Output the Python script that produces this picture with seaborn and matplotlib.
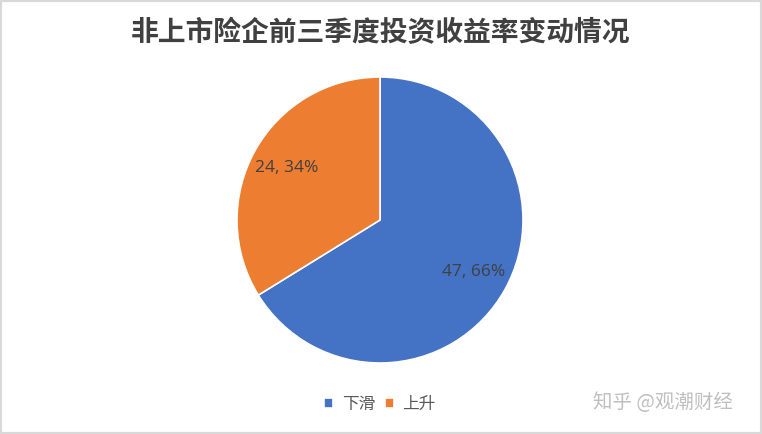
import seaborn as sns
import matplotlib.pyplot as plt
from matplotlib.patches import Rectangle

# data
categories = ['下滑', '上升']
counts = [47, 24]
colors = ['#4472C4', '#ED7D31']
titre = '非上市险企前三季度投资收益率变动情况'

sns.set_theme(style='white')
plt.rcParams['font.family'] = ['Noto Sans CJK SC', 'DejaVu Sans']

W, H = 762, 434
fig = plt.figure(figsize=(W / 100, H / 100), dpi=100)
fig.patch.set_facecolor('white')

# pie axes: centre (380, 220), radius 143 px
cx, cy, r = 380, 220, 143
ax = fig.add_axes([(cx - r) / W, (H - cy - r) / H, 2 * r / W, 2 * r / H])

total = sum(counts)


def fmt(pct):
    n = int(round(pct * total / 100))
    return f'{n}, {pct:.0f}%'


wedges, texts, autotexts = ax.pie(
    counts, colors=colors, startangle=90, counterclock=False,
    autopct=fmt, pctdistance=0.75,
    wedgeprops=dict(edgecolor='white', linewidth=1.2),
    textprops=dict(fontsize=12.5, color='#404040', family=['Open Sans', 'DejaVu Sans']))
ax.set_xlim(-1, 1)
ax.set_ylim(-1, 1)
ax.set_aspect('equal')
ax.axis('off')

fig.text(0.5, 1 - 33 / H, titre, ha='center', va='center', fontsize=20,
         fontweight='semibold', color='#404040')

fig.legend(wedges, categories, loc='center', bbox_to_anchor=(cx / W, 1 - 404 / H),
           ncol=2, frameon=False, fontsize=12, handlelength=0.55, handleheight=0.55,
           handletextpad=0.5, columnspacing=0.6, labelcolor='#595959')

fig.text(663 / W, 1 - 403 / H, '知乎 @观潮财经', ha='center', va='center',
         fontsize=14, color='#BFBFBF')

fig.add_artist(Rectangle((0, 0), 1, 1, transform=fig.transFigure, fill=False,
                         edgecolor='#D9D9D9', linewidth=3))

plt.savefig('out.png', dpi=100)
